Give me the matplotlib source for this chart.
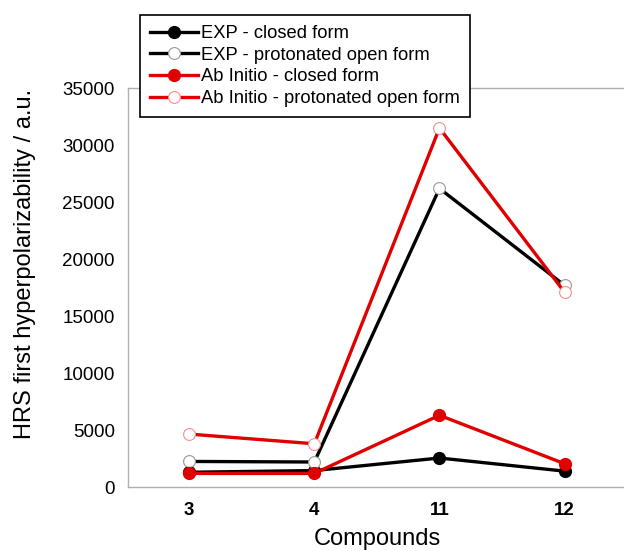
import matplotlib.pyplot as plt
import numpy as np

plt.rcParams['font.family'] = ['Liberation Sans', 'DejaVu Sans']

# data
compounds = ['3', '4', '11', '12']
exp_closed = [1300, 1450, 2550, 1400]
exp_open = [2250, 2200, 26200, 17700]
abinitio_closed = [1200, 1200, 6300, 2050]
abinitio_open = [4650, 3800, 31500, 17100]

fig = plt.figure(figsize=[6.24, 5.51], dpi=100)
ax = fig.add_axes([0.205, 0.116, 0.80, 0.724])

x = np.arange(len(compounds))
lw = 2.4
ms = 8.5

ax.plot(x, exp_closed, color='black', lw=lw, marker='o', ms=ms,
        mfc='black', mec='black', label='EXP - closed form')
ax.plot(x, exp_open, color='black', lw=lw, marker='o', ms=ms,
        mfc='white', mec='#999999', mew=0.8, label='EXP - protonated open form')
ax.plot(x, abinitio_closed, color='#e00000', lw=lw, marker='o', ms=ms,
        mfc='#e00000', mec='#e00000', label='Ab Initio - closed form')
ax.plot(x, abinitio_open, color='#e00000', lw=lw, marker='o', ms=ms,
        mfc='white', mec='#f09090', mew=0.8, label='Ab Initio - protonated open form')

ax.set_xlim(-0.49, 3.5)
ax.set_ylim(0, 35000)
ax.set_yticks(np.arange(0, 35001, 5000))
ax.set_xticks(x)
ax.set_xticklabels(compounds, fontweight='bold')
ax.tick_params(axis='both', length=0, labelsize=13.5)
ax.tick_params(axis='y', pad=9.5)
ax.tick_params(axis='x', pad=11)

for side in ['left', 'bottom', 'top']:
    ax.spines[side].set_color('#b0b0b0')
    ax.spines[side].set_linewidth(1.0)
ax.spines['right'].set_visible(False)

ax.set_ylabel('HRS first hyperpolarizability / a.u.', fontsize=17)
ax.yaxis.set_label_coords(-0.205 + 10 / 499, 0.56)
ax.set_xlabel('Compounds', fontsize=17, labelpad=6)

leg = fig.legend(loc='upper left', bbox_to_anchor=(0.224, 0.973),
                 bbox_transform=fig.transFigure, borderaxespad=0,
                 fancybox=False, edgecolor='black', framealpha=1,
                 fontsize=13.2, handlelength=2.6, labelspacing=0.26,
                 handletextpad=0.2, borderpad=0.55)
leg.get_frame().set_linewidth(1.2)

fig.savefig('out.png', dpi=100)
